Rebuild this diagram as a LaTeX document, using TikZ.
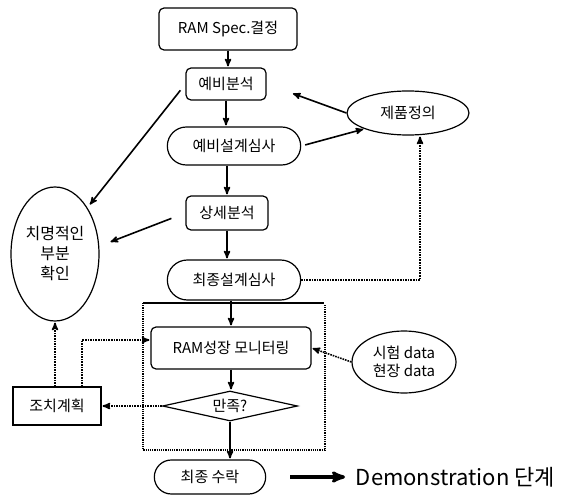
\documentclass[tikz,border=0pt]{standalone}
\usepackage{fontspec}
\setmainfont{Noto Sans CJK KR}
\usetikzlibrary{arrows,shapes.geometric,shapes.misc}

\begin{document}
\begin{tikzpicture}[x=1pt,y=-1pt,>=stealth',shorten >=1pt,line width=1.2pt,
 font=\fontsize{15}{18}\selectfont,
 box/.style={draw,rounded corners=5pt,inner sep=2pt},
 pill/.style={draw,rounded rectangle,minimum width=140pt,minimum height=38pt},
 oval/.style={draw,ellipse,inner sep=0pt,align=center},
 link/.style={->,line width=1.6pt},
 dot/.style={link,densely dotted}]
 \useasboundingbox (0,0) rectangle (575,500);

 \node[box,minimum width=138pt,minimum height=42pt] (spec) at (228,29) {RAM Spec.결정};
 \node[box,minimum width=80pt,minimum height=32pt] (pre) at (226,84) {예비분석};
 \node[pill] (prerev) at (234,146) {예비설계심사};
 \node[oval,minimum width=122pt,minimum height=44pt] (prod) at (408,113) {제품정의};
 \node[oval,minimum width=88pt,minimum height=134pt,font=\fontsize{16}{20}\selectfont] (crit) at (55,254) {치명적인\\부분\\확인};
 \node[box,minimum width=82pt,minimum height=34pt] (detail) at (227,213) {상세분석};
 \node[pill,minimum height=40pt] (finrev) at (234,280) {최종설계심사};
 \node[box,minimum width=160pt,minimum height=42pt] (mon) at (231,348) {RAM성장 모니터링};
 \node[draw,diamond,aspect=4.5,inner sep=0pt,minimum width=135pt,minimum height=30pt] (ok) at (230,406) {만족?};
 \node[draw,minimum width=88pt,minimum height=38pt] (act) at (57,406) {조치계획};
 \node[oval,minimum width=104pt,minimum height=62pt] (data) at (404,362) {시험 data\\현장 data};
 \node[pill,minimum width=118pt,minimum height=34pt] (acc) at (210,477) {최종 수락};
 \node[right,font=\fontsize{22}{24}\selectfont] (demo) at (352,477) {Demonstration 단계};

 % monitoring frame
 \draw (143,303) -- (325,303);
 \draw[densely dotted] (143,303) -- (143,450) -- (325,450) -- (325,303);

 \draw[link] (spec) -- (spec |- pre.north);
 \draw[link] (pre) -- (pre |- prerev.north);
 \draw[link] (detail |- prerev.south) -- (detail);
 \draw[link] (detail) -- (detail |- finrev.north);
 \draw[link] (mon |- finrev.south) -- (mon);
 \draw[link] (mon) -- (mon |- ok.north);
 \draw[link] (ok |- ok.south) -- (ok |- acc.north);
 \draw[link,line width=3.2pt] ([xshift=24pt]acc.east) -- ([xshift=-6pt]demo.west);

 \draw[link,shorten <=8pt,shorten >=4pt] (pre.west) -- (crit.55);
 \draw[link,shorten <=15pt,shorten >=12pt] (detail.west) -- (crit.10);
 \draw[link,shorten <=4pt] (prerev.east) -- (prod.200);
 \draw[link,shorten >=28pt] (prod.west) -- (pre.east);
 \draw[dot] (finrev.east) -| ([xshift=12pt]prod.south);
 \draw[dot] (data.west) -- (mon.east);
 \draw[dot] (ok.west) -- (act.east);
 \draw[dot] ([xshift=25pt]act.north) |- ([yshift=8pt]mon.west);
 \draw[dot] (crit.south |- act.north) -- (crit.south);
\end{tikzpicture}
\end{document}
